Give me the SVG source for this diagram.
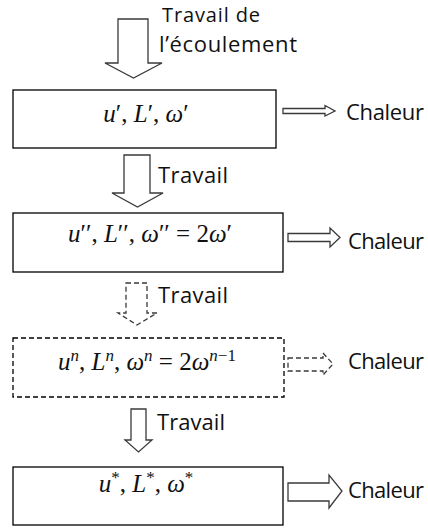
<svg xmlns="http://www.w3.org/2000/svg" width="428" height="529" viewBox="0 0 428 529">
<style>
.bg{fill:#fff}
.box{fill:#fff;stroke:#000;stroke-width:1.3}
.dash{stroke-dasharray:5,3}
.arr{fill:#fff;stroke:#3a3a3a;stroke-width:1.3;stroke-linejoin:miter}
.lbl{font-family:"Open Sans","Liberation Sans",sans-serif;font-size:22px;fill:#111}
.top{font-size:20px}
.math{font-family:"Liberation Serif","DejaVu Serif",serif;font-size:25px;fill:#111}
.it{font-style:italic}
.sup{font-size:17px}
</style>
<rect class="bg" x="0" y="0" width="428" height="529"/>
<g id="connectors">
  <polygon class="arr" points="118,19 148,19 148,63 162,63 133.5,78 105,63 118,63"/>
  <polygon class="arr" points="124,155 150,155 150,193 163,193 137.5,207 112,193 124,193"/>
  <polygon class="arr dash" points="126,283 147,283 147,313 157,313 137,325 118,313 126,313"/>
  <polygon class="arr" points="131,409 146,409 146,440 152,440 138.5,452 125,440 131,440"/>
  <polygon class="arr" points="283,108.5 325,108.5 325,105.5 335,111 325,116 325,113.5 283,113.5"/>
  <polygon class="arr" points="288,233.5 330,233.5 330,228 340,237.5 330,247 330,241.5 288,241.5"/>
  <polygon class="arr dash" points="288,358 323,358 323,353 333,364 323,375 323,371 288,371"/>
  <polygon class="arr" points="288,483 329,483 329,475 342,491 329,508 329,501 288,501"/>
</g>
<g id="label-top">
  <text class="lbl top" x="162" y="22" textLength="98">Travail de</text>
  <text class="lbl" x="159" y="52" textLength="138">l’écoulement</text>
</g>
<g id="node1">
  <rect class="box" x="13" y="90" width="263" height="58"/>
  <text class="math" x="146" y="122" text-anchor="middle"><tspan class="it">u</tspan>′, <tspan class="it">L</tspan>′, <tspan class="it">ω</tspan>′</text>
</g>
<g id="heat1"><text class="lbl" x="346" y="120" textLength="78">Chaleur</text></g>
<g id="work1"><text class="lbl" x="158" y="183" textLength="70">Travail</text></g>
<g id="node2">
  <rect class="box" x="13" y="213" width="270" height="59"/>
  <text class="math" x="150" y="242" text-anchor="middle"><tspan class="it">u</tspan>′′, <tspan class="it">L</tspan>′′, <tspan class="it">ω</tspan>′′ = 2<tspan class="it">ω</tspan>′</text>
</g>
<g id="heat2"><text class="lbl" x="348" y="249" textLength="76">Chaleur</text></g>
<g id="work2"><text class="lbl" x="158" y="303" textLength="70">Travail</text></g>
<g id="node3">
  <rect class="box dash" x="13" y="338" width="271" height="59"/>
  <text class="math" x="147" y="370" text-anchor="middle"><tspan class="it">u</tspan><tspan class="it sup" dy="-9">n</tspan><tspan dy="9">, </tspan><tspan class="it">L</tspan><tspan class="it sup" dy="-9">n</tspan><tspan dy="9">, </tspan><tspan class="it">ω</tspan><tspan class="it sup" dy="-9">n</tspan><tspan dy="9"> = 2</tspan><tspan class="it">ω</tspan><tspan class="sup" dy="-9"><tspan class="it">n</tspan>−1</tspan></text>
</g>
<g id="heat3"><text class="lbl" x="348" y="369" textLength="76">Chaleur</text></g>
<g id="work3"><text class="lbl" x="157" y="430" textLength="68">Travail</text></g>
<g id="node4">
  <rect class="box" x="13" y="467" width="270" height="58"/>
  <text class="math" x="146" y="492" text-anchor="middle"><tspan class="it">u</tspan><tspan class="sup" dy="-9">*</tspan><tspan dy="9">, </tspan><tspan class="it">L</tspan><tspan class="sup" dy="-9">*</tspan><tspan dy="9">, </tspan><tspan class="it">ω</tspan><tspan class="sup" dy="-9">*</tspan></text>
</g>
<g id="heat4"><text class="lbl" x="348" y="498" textLength="76">Chaleur</text></g>
</svg>
